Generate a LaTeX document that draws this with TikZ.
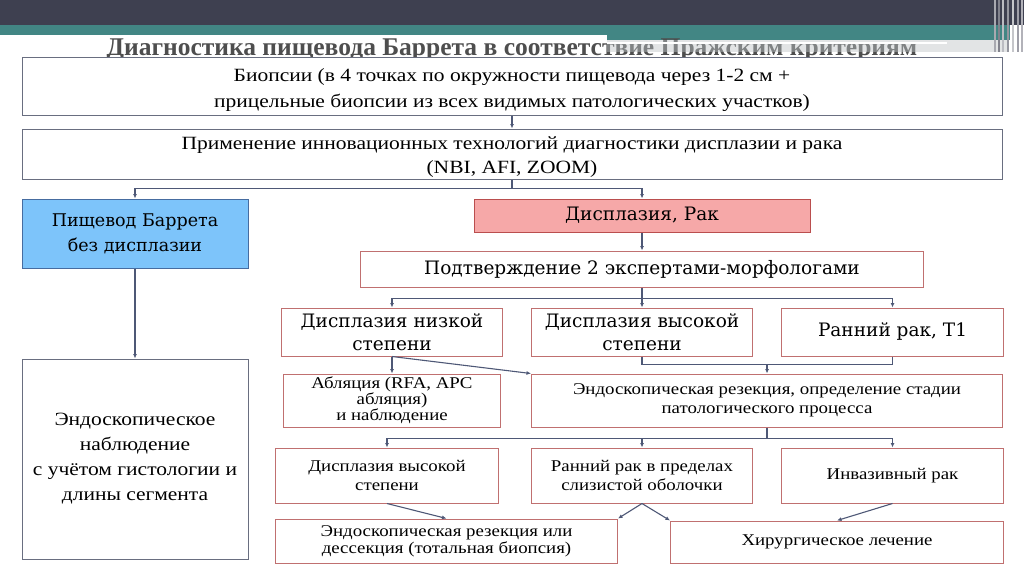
\documentclass[tikz,border=0pt]{standalone}
\usepackage{fontspec}
\setmainfont{Liberation Serif}[FakeStretch=1.15]
\newfontfamily\titleserif{Liberation Serif}
\newfontfamily\boxserif{DejaVu Serif}
\usetikzlibrary{
  arrows.meta,
  positioning,
  calc
}
\definecolor{HeaderSlate}{RGB}{62,64,80}
\definecolor{HeaderTeal}{RGB}{66,134,132}
\definecolor{StripGray}{RGB}{190,196,198}
\definecolor{TitleGray}{RGB}{78,78,78}
\definecolor{FrameGray}{RGB}{105,110,128}
\definecolor{FrameRed}{RGB}{192,112,112}
\definecolor{BarrettEdge}{RGB}{70,108,160}
\definecolor{BarrettBlue}{RGB}{125,196,250}
\definecolor{CancerEdge}{RGB}{186,78,78}
\definecolor{CancerPink}{RGB}{246,168,168}
\definecolor{LineSlate}{RGB}{78,88,118}
\tikzset{
  sbox/.style={
    draw=FrameGray,
    fill=white,
    line width=1pt,
    inner sep=0pt,
    align=center,
    font=\fontsize{18.7}{26}\selectfont
  },
  redbox/.style={sbox,draw=FrameRed,font=\fontsize{16.4}{19}\selectfont},
  bigredbox/.style={sbox,draw=FrameRed,font=\boxserif\fontsize{18.5}{23}\selectfont},
  barrettbox/.style={sbox,draw=BarrettEdge,fill=BarrettBlue,font=\boxserif\fontsize{17.5}{25}\selectfont},
  cancerbox/.style={sbox,draw=CancerEdge,fill=CancerPink,font=\boxserif\fontsize{18.5}{23}\selectfont},
  arrow/.style={-{Latex[length=4.5pt,width=4pt]},line width=1.1pt,draw=LineSlate},
  link/.style={line width=1.1pt,draw=LineSlate}
}
\begin{document}
\begin{tikzpicture}[x=1pt, y=-1pt, node distance=13pt and 28pt]
  \useasboundingbox (0,0) rectangle (1024,576);
  % slide header
  \fill[HeaderSlate] (0,0) rectangle (1024,25);
  \fill[HeaderTeal] (0,25) rectangle (1010,35);
  \fill[HeaderTeal] (607,25) rectangle (1010,40);
  \node[font=\titleserif\bfseries\fontsize{25.5}{28}\selectfont, text=TitleGray, anchor=base] (title) at (512,55)
    {Диагностика пищевода Баррета в соответствие Пражским критериям};
  \fill[StripGray, opacity=.45] (607,40) rectangle (1007,52);
  \draw[white, line width=1.2pt] (607,43) -- (947,43);
  \foreach \x/\s in {995/55,999/35,1003/65,1008/45,1013/70,1018/50,1022/60}
    \draw[line width=2pt, white!\s!HeaderSlate] (\x,0) -- (\x,52);

  % top chain
  \node[sbox, minimum width=980pt, minimum height=58pt, text height=47pt] (biopsy) at (512,86)
    {Биопсии (в 4 точках по окружности пищевода через 1-2 см +\\
     прицельные биопсии из всех видимых патологических участков)};
  \node[sbox, below=13pt of biopsy, minimum width=980pt, minimum height=50pt, text height=42pt,
        font=\fontsize{18.7}{24}\selectfont] (innov)
    {Применение инновационных технологий диагностики дисплазии и рака\\
     (NBI, AFI, ZOOM)};

  % two branches
  \node[barrettbox, below=19pt of innov.south west, anchor=north west,
        minimum width=226pt, minimum height=69pt] (barrett) {Пищевод Баррета\\без дисплазии};
  \node[cancerbox, right=225pt of barrett.north east, anchor=north west,
        minimum width=336pt, minimum height=33pt] (cancer) {Дисплазия, Рак};
  \node[bigredbox, below=18pt of cancer, minimum width=563pt, minimum height=36pt] (confirm)
    {Подтверждение 2 экспертами-морфологами};
  \node[sbox, below=90pt of barrett, minimum width=226pt, minimum height=200pt,
        font=\fontsize{18.7}{25}\selectfont] (observ)
    {Эндоскопическое\\наблюдение\\с учётом гистологии и\\длины сегмента};

  % grades
  \node[bigredbox, below=20pt of confirm, minimum width=221pt, minimum height=48pt] (high)
    {Дисплазия высокой\\степени};
  \node[bigredbox, left=28pt of high, minimum width=221pt, minimum height=48pt] (low)
    {Дисплазия низкой\\степени};
  \node[bigredbox, right=28pt of high, minimum width=222pt, minimum height=48pt] (early)
    {Ранний рак, Т1};

  % treatment
  \node[redbox, below=17pt of low, minimum width=217pt, minimum height=53pt,
        font=\fontsize{16.4}{16}\selectfont] (ablation)
    {Абляция (RFA, APC\\абляция)\\ и наблюдение};
  \node[redbox, below=17pt of high.south west, anchor=north west,
        minimum width=471pt, minimum height=53pt] (resect)
    {Эндоскопическая резекция, определение стадии\\патологического процесса};

  % staging
  \node[redbox, below=20pt of resect.south west, anchor=north west,
        minimum width=221pt, minimum height=55pt] (mucosa)
    {Ранний рак в пределах\\слизистой оболочки};
  \node[redbox, left=32pt of mucosa, minimum width=223pt, minimum height=55pt] (hgd)
    {Дисплазия высокой\\степени};
  \node[redbox, right=28pt of mucosa, minimum width=222pt, minimum height=55pt] (invasive)
    {Инвазивный рак};
  \node[redbox, below=15pt of hgd.south west, anchor=north west,
        minimum width=342pt, minimum height=44pt, font=\fontsize{16.4}{17}\selectfont] (dissect)
    {Эндоскопическая резекция или\\дессекция (тотальная биопсия)};
  \node[redbox, below=17pt of invasive.south east, anchor=north east,
        minimum width=333pt, minimum height=42pt] (surgery)
    {Хирургическое лечение};

  % connectors
  \draw[arrow] (biopsy) -- (innov);
  \draw[arrow] (innov.south) -- ++(0,9) coordinate (split) -| (barrett);
  \draw[arrow] (split) -| (cancer);
  \draw[arrow] (barrett) -- (observ);
  \draw[arrow] (cancer) -- (confirm);
  \draw[arrow] (confirm.south) -- ++(0,11) coordinate (fork) -| (low);
  \draw[arrow] (fork) -- (high);
  \draw[arrow] (fork) -| (early);
  \draw[arrow] (low) -- (ablation);
  \draw[arrow] (low.south) -- (resect.north west);
  \draw[link] (high.south) -- ++(0,8) coordinate (merge) -| (early.south);
  \draw[arrow] (merge -| resect.north) -- (resect.north);
  \draw[arrow] (resect.south) -- ++(0,11) coordinate (stage) -| (hgd);
  \draw[arrow] (stage) -| (mucosa);
  \draw[arrow] (stage) -| (invasive);
  \draw[arrow] (hgd.south) -- (dissect.north);
  \draw[arrow] (mucosa.south) -- (dissect.north east);
  \draw[arrow] (mucosa.south) -- (surgery.north west);
  \draw[arrow] (invasive.south) -- (surgery.north);
\end{tikzpicture}
\end{document}
